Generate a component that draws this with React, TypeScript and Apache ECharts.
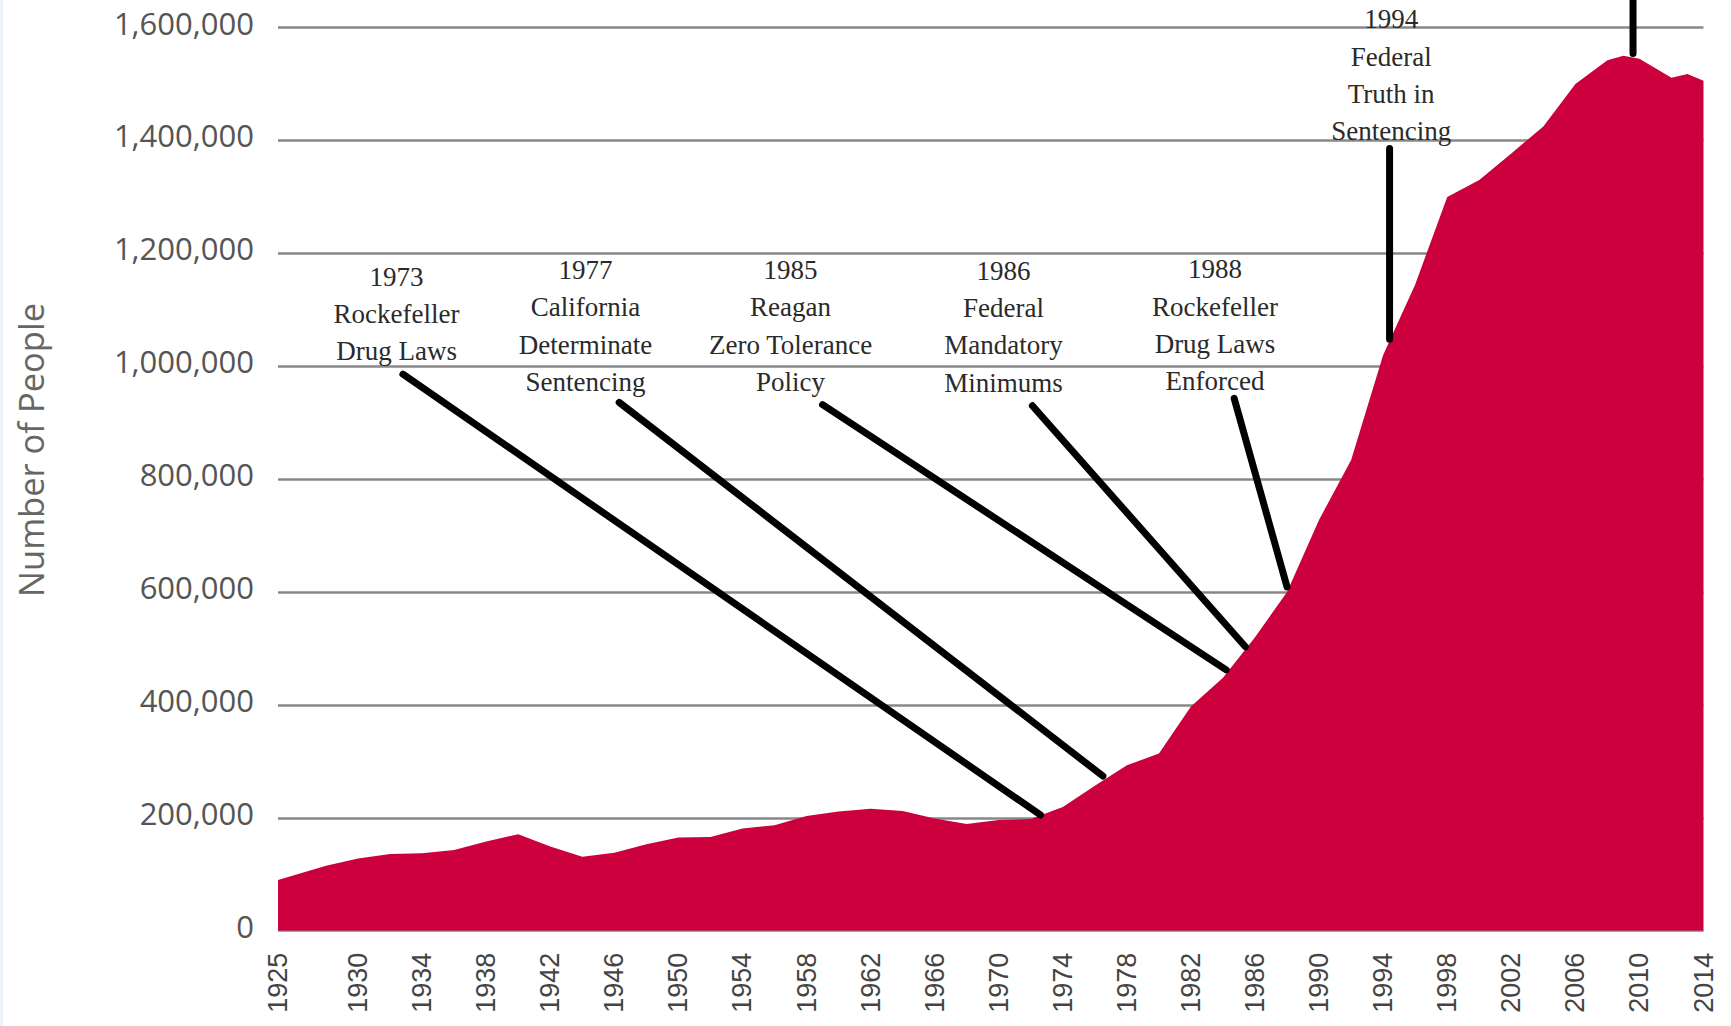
import React, { useEffect, useRef } from "react";
import * as echarts from "echarts";

// Prison population
const years = [
  1925, 1928, 1930, 1932, 1934, 1936, 1938, 1940, 1942, 1944, 1946, 1948, 1950,
  1952, 1954, 1956, 1958, 1960, 1962, 1964, 1966, 1968, 1970, 1972, 1974, 1976,
  1978, 1980, 1982, 1984, 1986, 1988, 1990, 1992, 1994, 1996, 1998, 2000, 2002,
  2004, 2006, 2008, 2009, 2010, 2011, 2012, 2013, 2014,
];
const people = [
  90000, 115000, 128000, 136000, 137000, 143000, 158000, 171000, 149000, 131000,
  138000, 153000, 165000, 166000, 181000, 187000, 203000, 211000, 216000, 212000,
  199000, 189000, 196000, 198000, 219000, 257000, 293000, 314000, 397000, 448000,
  520000, 600000, 728000, 834000, 1020000, 1145000, 1300000, 1330000, 1377000,
  1425000, 1500000, 1542000, 1550000, 1545000, 1528000, 1511000, 1518000, 1506000,
];

const xTickYears = [
  1925, 1930, 1934, 1938, 1942, 1946, 1950, 1954, 1958, 1962, 1966, 1970, 1974,
  1978, 1982, 1986, 1990, 1994, 1998, 2002, 2006, 2010, 2014,
];

const annotationTexts = [
  "1973\nRockefeller\nDrug Laws",
  "1977\nCalifornia\nDeterminate\nSentencing",
  "1985\nReagan\nZero Tolerance\nPolicy",
  "1986\nFederal\nMandatory\nMinimums",
  "1988\nRockefeller\nDrug Laws\nEnforced",
  "1994\nFederal\nTruth in\nSentencing",
];
// top-centre of each text block, in data units [year, people]
const annotationAnchors = [
  [1932.4, 1191700],
  [1944.2, 1203400],
  [1957.0, 1203400],
  [1970.3, 1202300],
  [1983.5, 1204600],
  [1994.5, 1647400],
];
// pointer lines [yearFrom, peopleFrom, yearTo, peopleTo]
const annotationLines = [
  [1932.8, 986000, 1972.6, 205000],
  [1946.3, 936000, 1976.5, 274000],
  [1959.0, 932000, 1984.2, 462000],
  [1972.1, 930000, 1985.4, 503000],
  [1984.7, 943000, 1988.0, 609000],
  [1994.4, 1386000, 1994.4, 1048000],
  [2009.6, 1665000, 2009.6, 1554000],
];

export default function App() {
  const ref = useRef<HTMLDivElement>(null);
  useEffect(() => {
    const chart = echarts.init(ref.current!, null, { renderer: "svg" });
    chart.setOption({
      animation: false,
      backgroundColor: "#ffffff",
      grid: {
        left: 278,
        right: 27.5,
        top: 27.6,
        bottom: 95.3,
        containLabel: false,
        outerBoundsMode: "none",
      },
      xAxis: {
        type: "value",
        min: 1925,
        max: 2014,
        axisLine: { show: false },
        axisTick: { show: false },
        splitLine: { show: false },
        axisLabel: {
          customValues: xTickYears,
          rotate: 90,
          margin: 22,
          fontFamily: "Liberation Sans",
          fontSize: 27,
          color: "#444444",
          formatter: (v: number) => String(v),
        },
      },
      yAxis: {
        type: "value",
        min: 0,
        max: 1600000,
        interval: 200000,
        axisLine: { show: false },
        axisTick: { show: false },
        splitLine: { lineStyle: { color: "#888888", width: 2.5 } },
        axisLabel: {
          margin: 24,
          verticalAlign: "bottom",
          lineHeight: 10,
          fontFamily: "Open Sans",
          fontSize: 31,
          color: "#555555",
          formatter: (v: number) => v.toLocaleString("en-US"),
        },
      },
      graphic: [
        {
          type: "rect",
          left: 0,
          top: 0,
          shape: { width: 3, height: 1026 },
          style: { fill: "#edf1f9" },
        },
        {
          type: "text",
          x: 30,
          y: 450,
          rotation: Math.PI / 2,
          style: {
            text: "Number of People",
            fontFamily: "Open Sans",
            fontSize: 34.5,
            fill: "#666666",
            align: "center",
            verticalAlign: "middle",
          },
        },
      ],
      series: [
        {
          type: "line",
          data: years.map((y, i) => [y, people[i]]),
          symbol: "none",
          silent: true,
          lineStyle: { width: 0 },
          areaStyle: { color: "#cc003d", opacity: 1 },
          z: 2,
        },
        {
          type: "custom",
          data: annotationLines,
          encode: { x: [0, 2], y: [1, 3] },
          clip: false,
          silent: true,
          z: 5,
          renderItem: (params: any, api: any) => {
            const p1 = api.coord([api.value(0), api.value(1)]);
            const p2 = api.coord([api.value(2), api.value(3)]);
            return {
              type: "line",
              shape: { x1: p1[0], y1: p1[1], x2: p2[0], y2: p2[1] },
              style: { stroke: "#000000", lineWidth: 7, lineCap: "round" },
            };
          },
        },
        {
          type: "custom",
          data: annotationAnchors,
          encode: { x: 0, y: 1 },
          clip: false,
          silent: true,
          z: 6,
          renderItem: (params: any, api: any) => {
            const p = api.coord([api.value(0), api.value(1)]);
            return {
              type: "text",
              x: p[0],
              y: p[1],
              style: {
                text: annotationTexts[params.dataIndex],
                fontFamily: "Liberation Serif",
                fontSize: 27,
                lineHeight: 37.3,
                fill: "#2a2a2a",
                align: "center",
                verticalAlign: "top",
              },
            };
          },
        },
      ],
    });
    return () => chart.dispose();
  }, []);
  return (
    <div
      ref={ref}
      style={{ position: "absolute", left: 0, top: 0, width: 1731, height: 1026 }}
    />
  );
}
